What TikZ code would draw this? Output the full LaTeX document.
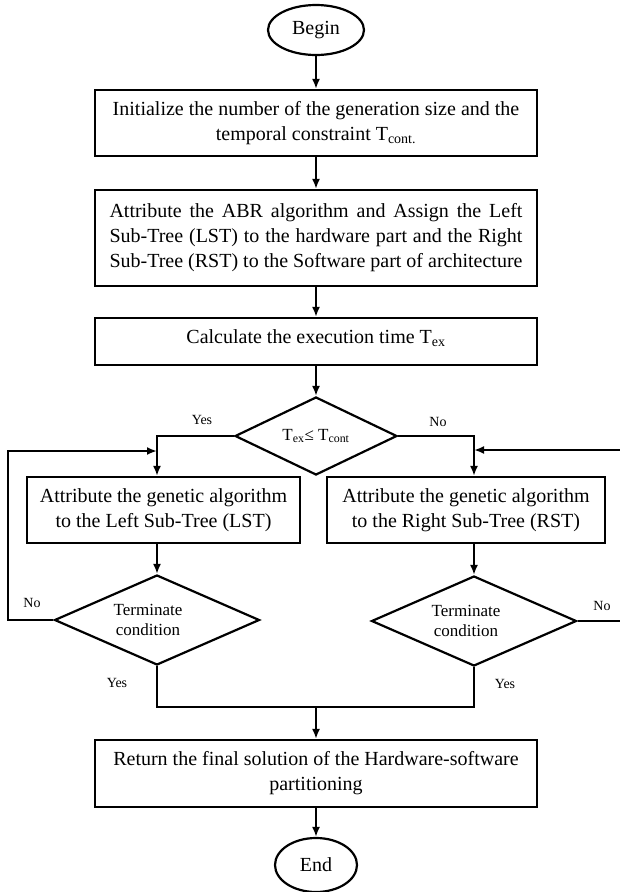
\documentclass[tikz,border=0pt]{standalone}
\usepackage{fontspec}
\setmainfont{Liberation Serif}
\usetikzlibrary{shapes.geometric,arrows.meta}
\begin{document}
\begin{tikzpicture}
        [
            x=1pt, y=-1pt,
            line width=2.2pt,
            >={Latex[length=10pt,width=8pt]},
            terminal/.style={ellipse, draw, inner sep=0pt, font=\fontsize{20}{25}\selectfont},
            process/.style={rectangle, draw, inner sep=0pt, align=center, font=\fontsize{20}{25}\selectfont},
            decision/.style={diamond, draw, aspect=2, inner sep=0pt, align=center, font=\fontsize{17}{20}\selectfont},
            answer/.style={inner sep=0pt, font=\fontsize{14}{16}\selectfont},
        ]
        \useasboundingbox (0,0) rectangle (619,892);
        \node[terminal, minimum width=96pt, minimum height=50pt] (begin) at (316,30) {Begin};
        \node[process, minimum width=442pt, minimum height=66pt] (init) at (316,123)
            {Initialize the number of the generation size and the\\temporal constraint T\textsubscript{cont.}};
        \node[process, minimum width=442pt, minimum height=96pt] (assign) at (316,238)
            {\makebox[413pt][s]{Attribute the ABR algorithm and Assign the Left}\\
             \makebox[413pt][s]{Sub-Tree (LST) to the hardware part and the Right}\\
             \makebox[413pt][s]{Sub-Tree (RST) to the Software part of architecture}};
        \node[process, minimum width=442pt, minimum height=47pt, text depth=10pt] (calc) at (316,341.5)
            {Calculate the execution time T\textsubscript{ex}};
        \node[decision, minimum width=162pt, minimum height=78pt] (cmp) at (316,436)
            {T\textsubscript{ex}≤ T\textsubscript{cont}};
        \node[process, minimum width=273pt, minimum height=66pt] (lga) at (163.5,510)
            {Attribute the genetic algorithm\\to the Left Sub-Tree (LST)};
        \node[process, minimum width=278pt, minimum height=66pt] (rga) at (466,510)
            {Attribute the genetic algorithm\\to the Right Sub-Tree (RST)};
        \node[decision, minimum width=205pt, minimum height=90pt] (lterm) at (157,620)
            {\hspace*{-18pt}Terminate\\\hspace*{-18pt}condition};
        \node[decision, minimum width=205pt, minimum height=90pt] (rterm) at (474,621)
            {\hspace*{-16pt}Terminate\\\hspace*{-16pt}condition};
        \node[process, minimum width=442pt, minimum height=67pt] (result) at (316,773.5)
            {Return the final solution of the Hardware-software\\partitioning};
        \node[terminal, minimum width=82pt, minimum height=54pt] (end) at (316,865) {End};

        \node[answer] (yes1) at (202,420) {Yes};
        \node[answer] (no1) at (438,422) {No};
        \node[answer] (no2) at (32,603) {No};
        \node[answer] (yes2) at (117,683) {Yes};
        \node[answer] (no3) at (602,606) {No};
        \node[answer] (yes3) at (505,684) {Yes};

        \coordinate (lloop) at (8,451);
        \coordinate (rloop) at (623,450);
        \coordinate (merge) at (316,707);

        \draw[->] (begin) -- (init);
        \draw[->] (init) -- (assign);
        \draw[->] (assign) -- (calc);
        \draw[->] (calc) -- (cmp);
        \draw[->] (cmp.west) -| (lterm.north |- lga.north);
        \draw[->] (cmp.east) -| (rterm.north |- rga.north);
        \draw[->] (lterm.north |- lga.south) -- (lterm.north);
        \draw[->] (rterm.north |- rga.south) -- (rterm.north);
        \draw[->] (lterm.west) -| (lloop) -- (lterm.north |- lloop);
        \draw[->] (rterm.east) -| (rloop) -- (rterm.north |- rloop);
        \draw (lterm.south) |- (merge) -| (rterm.south);
        \draw[->] (merge) -- (result);
        \draw[->] (result) -- (end);
    \end{tikzpicture}
\end{document}
